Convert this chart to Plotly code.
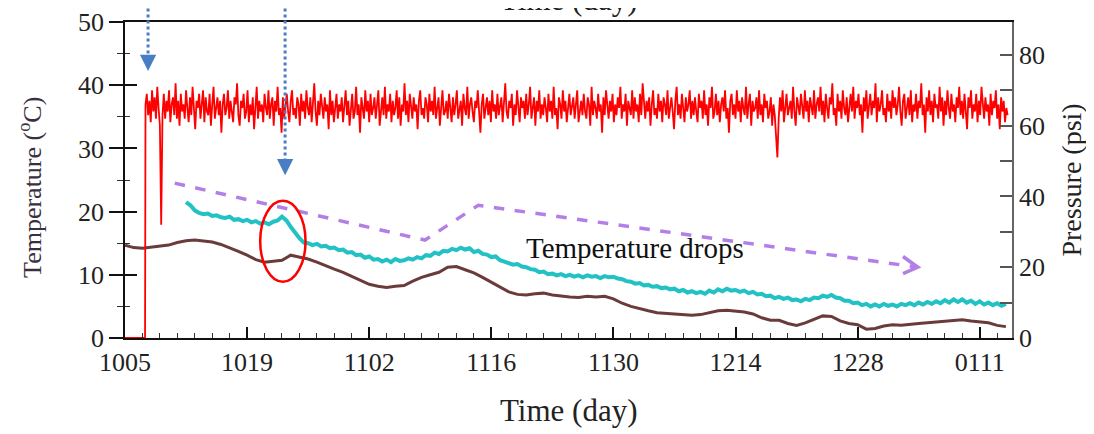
import plotly.graph_objects as go

# ----------------------------- data -----------------------------------

tickDays = [0, 14, 28, 42, 56, 70, 84, 98]
tickLabels = ["1005", "1019", "1102", "1116", "1130", "1214", "1228", "0111"]

# brown temperature, one reading per day from day 0
brownStart, brownStep = 0.0, 1.0
brownTemp = [14.7, 14.3, 14.2, 14.4, 14.5, 14.7, 15.1, 15.4, 15.5, 15.3,
             15.2, 14.8, 14.3, 13.7, 13.1, 12.4, 12.0, 12.1, 12.3, 13.1,
             12.8, 12.5, 12.0, 11.4, 10.9, 10.4, 9.8, 9.1, 8.5, 8.2,
             8.0, 8.2, 8.3, 9.0, 9.6, 10.0, 10.4, 11.2, 11.3, 10.8,
             10.3, 9.6, 8.8, 8.0, 7.3, 6.9, 6.8, 7.0, 7.1, 6.8,
             6.6, 6.5, 6.4, 6.6, 6.5, 6.6, 6.2, 5.5, 5.0, 4.6,
             4.3, 4.0, 3.9, 3.7, 3.6, 3.6, 3.7, 4.0, 4.3, 4.4,
             4.3, 4.1, 3.8, 3.2, 2.8, 2.8, 2.3, 2.0, 2.4, 3.0,
             3.5, 3.4, 2.7, 2.3, 2.1, 1.4, 1.5, 1.9, 2.1, 2.0,
             2.2, 2.3, 2.4, 2.5, 2.6, 2.8, 2.9, 2.7, 2.6, 2.4,
             2.0, 1.8]

# cyan temperature, every half day from day 7
cyanStart, cyanStep = 7.0, 0.5
cyanTemp = [21.5, 21.0, 20.2, 19.8, 19.6, 19.7, 19.3, 19.4, 19.1, 19.0,
            19.2, 18.7, 18.8, 18.5, 18.7, 18.3, 18.5, 18.1, 18.3, 18.0,
            18.4, 18.6, 19.2, 18.6, 17.6, 16.6, 15.8, 15.1, 15.0, 14.7,
            14.9, 14.5, 14.6, 14.2, 14.3, 13.9, 14.0, 13.5, 13.6, 13.1,
            13.2, 12.7, 12.9, 12.4, 12.5, 12.1, 12.4, 12.0, 12.5, 12.2,
            12.3, 12.6, 12.4, 12.8, 12.6, 13.1, 13.0, 13.5, 13.3, 13.8,
            13.7, 14.1, 13.9, 14.3, 14.0, 14.2, 13.6, 13.8, 13.3, 13.2,
            12.8, 12.9, 12.3, 12.1, 11.9, 11.6, 11.7, 11.3, 11.2, 10.9,
            10.8, 10.4, 10.5, 10.1, 10.2, 9.9, 10.1, 9.8, 10.0, 9.7,
            9.9, 9.6, 9.9, 9.7, 9.8, 9.5, 9.8, 9.6, 9.7, 9.4,
            9.3, 9.0, 8.9, 8.6, 8.7, 8.3, 8.4, 8.1, 8.2, 7.9,
            8.0, 7.7, 7.8, 7.4, 7.6, 7.2, 7.4, 7.1, 7.3, 7.0,
            7.5, 7.2, 7.7, 7.4, 7.8, 7.5, 7.6, 7.3, 7.5, 7.1,
            7.3, 6.9, 7.0, 6.6, 6.7, 6.3, 6.5, 6.2, 6.4, 6.0,
            6.1, 5.8, 6.2, 6.0, 6.4, 6.3, 6.7, 6.5, 6.8, 6.4,
            6.3, 5.9, 5.9, 5.5, 5.6, 5.2, 5.4, 5.0, 5.3, 5.0,
            5.4, 5.1, 5.3, 5.0, 5.4, 5.2, 5.5, 5.2, 5.6, 5.3,
            5.7, 5.4, 5.8, 5.5, 6.0, 5.6, 6.1, 5.7, 6.1, 5.6,
            5.9, 5.4, 5.8, 5.3, 5.6, 5.2, 5.5, 5.1, 5.4]

# pressure: zero before start-up, then a reading every 0.15 day
pressureLeadDays = [0.0, 2.3]
pressureLead = [0, 0]
pressureStart, pressureStep = 2.35, 0.15
pressure = [
    66, 69, 63, 67, 61, 70, 64, 68, 62, 71, 65, 60, 32, 63, 69, 62, 67, 64, 70, 61, 66, 68, 63, 72, 62, 67, 60, 69, 64, 66,
    62, 70, 65, 61, 68, 63, 71, 64, 59, 67, 65, 69, 62, 66, 70, 61, 68, 64, 63, 69, 60, 66, 71, 62, 65, 68, 63, 67, 58, 66,
    69, 63, 65, 70, 62, 67, 64, 61, 68, 66, 72, 63, 60, 67, 65, 69, 62, 64, 70, 61, 66, 63, 68, 59, 65, 71, 62, 67, 64, 66,
    61, 69, 65, 63, 70, 62, 66, 68, 60, 67, 64, 71, 63, 65, 58, 68, 62, 66, 69, 64, 61, 67, 70, 63, 65, 62, 68, 66, 60, 69,
    64, 67, 62, 70, 65, 63, 68, 61, 66, 72, 64, 60, 67, 63, 69, 65, 62, 68, 64, 66, 59, 70, 63, 67, 61, 65, 69, 62, 66, 64,
    68, 61, 65, 70, 63, 67, 60, 66, 69, 62, 64, 71, 63, 66, 58, 68, 65, 62, 70, 64, 67, 61, 69, 63, 65, 68, 62, 66, 70, 60,
    65, 68, 63, 71, 62, 66, 64, 69, 61, 67, 63, 65, 70, 62, 68, 60, 66, 64, 72, 63, 67, 61, 69, 65, 62, 68, 64, 66, 59, 67,
    70, 63, 65, 62, 68, 66, 61, 69, 64, 67, 63, 71, 62, 65, 68, 60, 66, 70, 63, 64, 67, 62, 69, 65, 61, 68, 63, 66, 70, 62,
    64, 67, 60, 69, 65, 63, 71, 62, 66, 68, 64, 61, 67, 65, 70, 63, 58, 66, 69, 62, 65, 68, 63, 67, 61, 70, 64, 66, 62, 69,
    63, 65, 68, 61, 66, 72, 64, 62, 67, 65, 69, 60, 66, 63, 70, 64, 61, 68, 65, 67, 62, 69, 63, 66, 71, 62, 65, 68, 60, 67,
    64, 70, 62, 66, 63, 68, 65, 61, 69, 64, 67, 62, 71, 63, 65, 59, 68, 66, 62, 70, 64, 67, 61, 66, 69, 63, 65, 68, 62, 66,
    70, 61, 65, 67, 63, 69, 64, 62, 68, 66, 60, 71, 63, 67, 65, 62, 69, 64, 66, 58, 68, 63, 70, 65, 62, 67, 64, 69, 61, 66,
    63, 68, 65, 71, 62, 66, 64, 69, 60, 67, 65, 63, 70, 62, 68, 64, 66, 61, 69, 63, 72, 65, 62, 67, 64, 68, 60, 66, 70, 63,
    65, 62, 69, 64, 67, 61, 68, 66, 63, 70, 62, 65, 68, 64, 59, 67, 71, 63, 66, 62, 69, 65, 61, 68, 64, 66, 70, 62, 67, 63,
    68, 64, 61, 69, 65, 67, 62, 70, 63, 66, 60, 68, 65, 71, 62, 64, 69, 63, 67, 61, 66, 68, 64, 70, 62, 65, 58, 67, 69, 63,
    66, 62, 70, 64, 67, 61, 68, 65, 63, 71, 62, 66, 69, 60, 67, 64, 65, 68, 62, 70, 63, 66, 61, 69, 65, 67, 62, 64, 68, 60,
    66, 63, 57, 51, 62, 68, 64, 70, 61, 66, 69, 63, 65, 67, 62, 71, 64, 60, 68, 65, 63, 69, 66, 62, 70, 64, 67, 61, 68, 65,
    63, 70, 62, 66, 68, 64, 71, 63, 67, 61, 69, 65, 62, 68, 66, 72, 63, 65, 60, 69, 64, 67, 62, 70, 65, 63, 68, 61, 66, 69,
    64, 71, 62, 67, 65, 69, 63, 66, 58, 68, 64, 70, 62, 66, 69, 63, 67, 65, 72, 61, 68, 64, 66, 70, 63, 65, 61, 69, 64, 67,
    62, 70, 65, 68, 63, 66, 71, 64, 60, 67, 69, 62, 65, 68, 63, 70, 61, 66, 64, 69, 62, 67, 65, 72, 63, 66, 58, 68, 64, 70,
    63, 67, 61, 69, 65, 66, 62, 71, 64, 68, 60, 67, 63, 70, 65, 62, 69, 64, 66, 61, 68, 65, 71, 63, 67, 62, 69, 64, 59, 68,
    65, 70, 62, 66, 64, 69, 61, 67, 63, 71, 65, 62, 68, 64, 66, 60, 69, 63, 67, 65, 70, 62, 66, 59, 68, 64, 67, 61, 65, 63]

# annotation guide (dashed trend arrow) in day / temperature units
trendDays = [5.7, 34.4, 40.5, 90.9]
trendTemp = [24.5, 15.5, 21.0, 11.2]

# ----------------------------- x values --------------------------------

brownDays = [brownStart + brownStep * i for i in range(len(brownTemp))]
cyanDays = [cyanStart + cyanStep * i for i in range(len(cyanTemp))]
pDays = pressureLeadDays + [pressureStart + pressureStep * i for i in range(len(pressure))]
pVals = pressureLead + pressure

SERIF = "Liberation Serif"
INK = "#222222"

# ----------------------------- figure ----------------------------------

fig = go.Figure()

fig.add_trace(go.Scatter(x=brownDays, y=brownTemp, mode="lines",
                         line=dict(color="#6b3b3b", width=3), yaxis="y"))
fig.add_trace(go.Scatter(x=cyanDays, y=cyanTemp, mode="lines",
                         line=dict(color="#22c1c3", width=4), yaxis="y"))
fig.add_trace(go.Scatter(x=pDays, y=pVals, mode="lines",
                         line=dict(color="#ff0000", width=1.8), yaxis="y2"))

# dashed purple trend arrow
path = "M {},{} L {},{} L {},{} L {},{}".format(
    trendDays[0], trendTemp[0], trendDays[1], trendTemp[1],
    trendDays[2], trendTemp[2], trendDays[3], trendTemp[3])
fig.add_shape(type="path", path=path, xref="x", yref="y",
              line=dict(color="#b27fe6", width=3.5, dash="dash"))
fig.add_shape(type="path", xref="x", yref="y",
              path="M 89.2,12.9 L 90.9,11.2 L 89.2,10.2",
              line=dict(color="#b27fe6", width=3.5))

# red ellipse around the step
fig.add_shape(type="circle", xref="x", yref="y", x0=15.5, x1=20.7, y0=8.9, y1=21.7,
              line=dict(color="#ff0000", width=2.5))

# blue dotted arrows from the top
for xp, yEnd, yTip in [(0.026, 0.88, 0.845), (0.1805, 0.56, 0.515)]:
    fig.add_shape(type="line", xref="paper", yref="paper", x0=xp, x1=xp, y0=1.1, y1=yEnd,
                  line=dict(color="#4a7ec4", width=3, dash="dot"))
    fig.add_annotation(xref="paper", yref="paper", x=xp, y=yTip, ax=0, ay=-12, text="",
                       showarrow=True, arrowhead=2, arrowsize=1.3, arrowwidth=2.5,
                       arrowcolor="#4a7ec4")

# texts
fig.add_annotation(xref="x", yref="y", x=58.5, y=14.3, text="Temperature drops",
                   showarrow=False, font=dict(family=SERIF, size=29, color="#111111"))
fig.add_annotation(xref="paper", yref="paper", x=0.5, y=1.008, yanchor="bottom",
                   text="Time (day)", showarrow=False,
                   font=dict(family=SERIF, size=31, color=INK))
fig.add_annotation(xref="paper", yref="paper", x=0.5, y=-0.23, yanchor="middle",
                   text="Time (day)", showarrow=False,
                   font=dict(family=SERIF, size=31, color=INK))
fig.add_annotation(xref="paper", yref="paper", x=-0.106, y=0.478, textangle=-90,
                   xanchor="center", yanchor="middle",
                   text="Temperature (<sup>o</sup>C)", showarrow=False,
                   font=dict(family=SERIF, size=26, color="#3a2f40"))
fig.add_annotation(xref="paper", yref="paper", x=1.066, y=0.50, textangle=-90,
                   xanchor="center", yanchor="middle",
                   text="Pressure (psi)", showarrow=False,
                   font=dict(family=SERIF, size=28, color=INK))

tickFont = dict(family=SERIF, size=26, color=INK)

# the page puts the figure 8px in from the top-left corner, margins allow for it
fig.update_layout(
    width=1094, height=434,
    margin=dict(l=117, r=90, t=14, b=104, autoexpand=False),
    paper_bgcolor="white", plot_bgcolor="white",
    showlegend=False,
    xaxis=dict(range=[0, 101.7], tickmode="array", tickvals=tickDays, ticktext=tickLabels,
               ticks="inside", ticklen=11, tickwidth=1.5, tickcolor="#111111",
               minor=dict(tickmode="linear", tick0=0, dtick=2, ticks="inside", ticklen=5,
                          tickwidth=1.2, tickcolor="#333333"),
               showline=True, linecolor="#111111", linewidth=1.8, mirror=True,
               showgrid=False, zeroline=False, tickfont=tickFont, automargin=False),
    yaxis=dict(range=[0, 50], dtick=10, ticks="outside", ticklen=14, tickwidth=1.5,
               tickcolor="#111111",
               minor=dict(dtick=5, ticks="outside", ticklen=6, tickwidth=1.2,
                          tickcolor="#333333"),
               showline=True, linecolor="#111111", linewidth=1.8,
               showgrid=False, zeroline=False, tickfont=tickFont, automargin=False),
    yaxis3=dict(range=[0, 50], dtick=10, overlaying="y", side="left", anchor="x",
                ticks="inside", ticklen=12, tickwidth=1.5, tickcolor="#111111",
                minor=dict(dtick=5, ticks="inside", ticklen=5, tickwidth=1.2,
                           tickcolor="#333333"),
                showticklabels=False, showline=False, showgrid=False, zeroline=False,
                automargin=False),
    yaxis2=dict(range=[0, 89.3], dtick=20, overlaying="y", side="right", anchor="x",
                ticks="inside", ticklen=12, tickwidth=1.5, tickcolor="#555555",
                minor=dict(dtick=10, ticks="inside", ticklen=12, tickwidth=1.5,
                           tickcolor="#555555"),
                showline=True, linecolor="#666666", linewidth=1.8,
                showgrid=False, zeroline=False, tickfont=tickFont, automargin=False),
)

# invisible trace so the inner tick axis is drawn
fig.add_trace(go.Scatter(x=[0], y=[0], mode="markers", marker=dict(opacity=0),
                         yaxis="y3", hoverinfo="skip"))

fig.write_html("out.html")
